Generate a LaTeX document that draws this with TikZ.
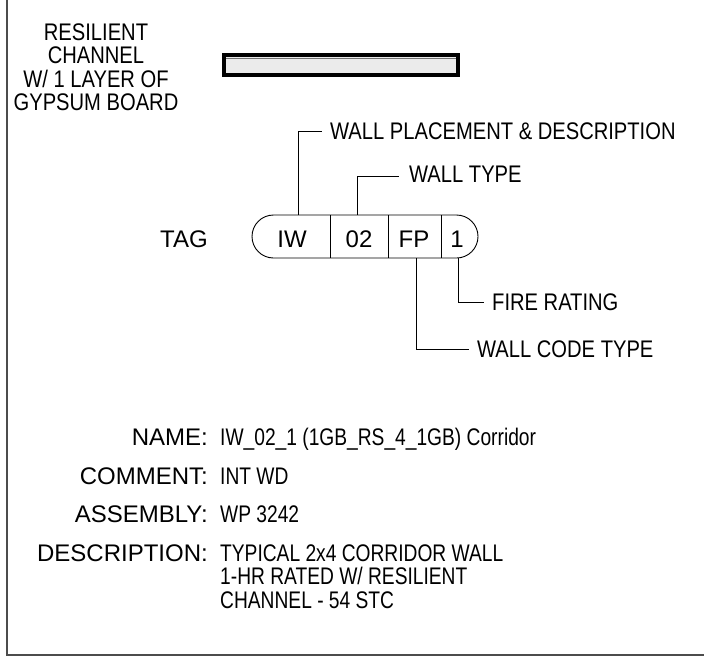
\documentclass[tikz,border=0pt]{standalone}
\usepackage{fontspec}
\setmainfont{Liberation Sans}
\newfontfamily\narrowfont[FakeStretch=0.84]{Liberation Sans}
\newfontfamily\valfont[FakeStretch=0.8]{Liberation Sans}
\begin{document}
\begin{tikzpicture}[x=1pt,y=-1pt,
  frameline/.style={draw=black!70,line width=1.5pt},
  leader/.style={draw=black,line width=0.9pt},
  bigtxt/.style={font=\narrowfont\fontsize{24}{28}\selectfont,inner sep=0pt,anchor=base},
  tagtxt/.style={font=\fontsize{24}{28}\selectfont,inner sep=0pt,anchor=base},
  calltxt/.style={font=\narrowfont\fontsize{24}{28}\selectfont,inner sep=0pt,anchor=base west},
  labtxt/.style={font=\fontsize{24}{28}\selectfont,inner sep=0pt,anchor=base east},
  valtxt/.style={font=\valfont\fontsize{24}{26}\selectfont,inner sep=0pt,anchor=base west}]
\useasboundingbox (0,0) rectangle (704,656);
% frame
\draw[frameline] (7,0) -- (7,655) -- (704,655);
% board symbol
\draw[line width=4pt,fill=black!8] (224,55) rectangle (458,75);
\draw[black!55,line width=0.8pt] (226,58.5) -- (456,58.5);
% left label
\node[bigtxt] (l1) at (96,40) {RESILIENT};
\node[bigtxt] (l2) at (96,63.5) {CHANNEL};
\node[bigtxt] (l3) at (96,87) {W/ 1 LAYER OF};
\node[bigtxt] (l4) at (96,110.5) {GYPSUM BOARD};
% tag pill
\draw[line width=0.9pt,rounded corners=21.5pt] (252,215) rectangle (478,258);
\draw[line width=0.9pt] (330,215) -- (330,258) (388,215) -- (388,258) (441,215) -- (441,258);
\node[tagtxt] (tag) at (184,247) {TAG};
\node[tagtxt] (iw) at (292,247) {IW};
\node[tagtxt] (t02) at (359,247) {02};
\node[tagtxt] (fp) at (414,247) {FP};
\node[tagtxt] (one) at (457,247) {1};
% callouts
\coordinate (ciw) at (298,215);
\coordinate (c02) at (357,215);
\coordinate (cfp) at (416,258);
\coordinate (c1) at (458,258);
\node[calltxt] (wpd) at (330,139) {WALL PLACEMENT \& DESCRIPTION};
\node[calltxt] (wt) at (409,182) {WALL TYPE};
\node[calltxt] (fr) at (492,310) {FIRE RATING};
\node[calltxt] (wct) at (477,357) {WALL CODE TYPE};
\draw[leader] (ciw) |- ([xshift=-8pt]wpd.west |- 0,131);
\draw[leader] (c02) |- ([xshift=-10pt]wt.west |- 0,176);
\draw[leader] (c1) |- ([xshift=-8pt]fr.west |- 0,302);
\draw[leader] (cfp) |- ([xshift=-8pt]wct.west |- 0,349);
% schedule
\node[labtxt] (kname) at (208,445) {NAME:};
\node[labtxt] (kcom) at (208,484) {COMMENT:};
\node[labtxt] (kass) at (208,522) {ASSEMBLY:};
\node[labtxt] (kdes) at (208,561) {DESCRIPTION:};
\node[valtxt] (vname) at (220,445) {IW\_02\_1 (1GB\_RS\_4\_1GB) Corridor};
\node[valtxt] (vcom) at (220,484) {INT WD};
\node[valtxt] (vass) at (220,522) {WP 3242};
\node[valtxt] (vdes1) at (220,561) {TYPICAL 2x4 CORRIDOR WALL};
\node[valtxt] (vdes2) at (220,584.5) {1-HR RATED W/ RESILIENT};
\node[valtxt] (vdes3) at (220,608) {CHANNEL - 54 STC};
\end{tikzpicture}
\end{document}
